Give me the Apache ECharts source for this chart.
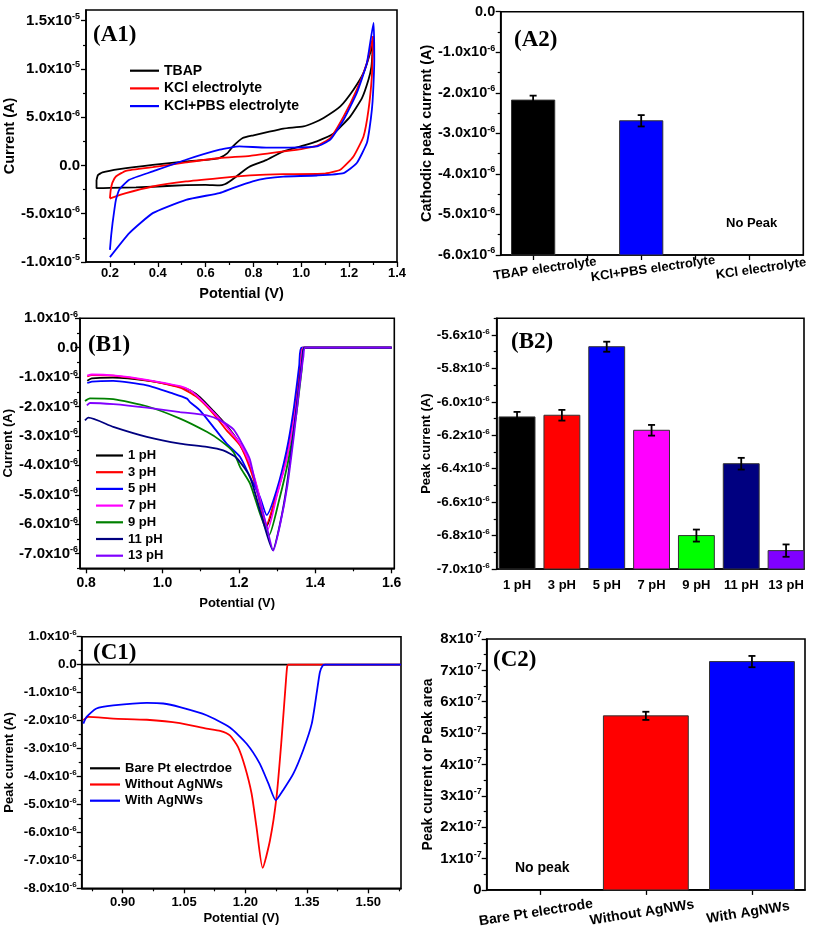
<!DOCTYPE html>
<html><head><meta charset="utf-8">
<script src="https://cdn.jsdelivr.net/npm/echarts@6.0.0/dist/echarts.min.js"></script>
<style>html,body{margin:0;padding:0;background:#fff}#c{width:813px;height:929px}</style>
</head><body><div id="c"></div>
<script>
// ================= DATA (currents in units of 1e-6 A unless noted) =================
// (A1) cyclic voltammograms: [potential V, current uA]
const a1Names = ['TBAP', 'KCl electrolyte', 'KCl+PBS electrolyte'];
const a1Colors = ['#000000', '#ff0000', '#0000ff'];
const a1TBAP = [[0.144,-1.5],[0.15,-1.0],[0.169,-0.72],[0.239,-0.38],[0.379,0.07],[0.518,0.42],[0.62,0.62],[0.658,0.78],[0.69,1.25],[0.714,1.97],[0.755,2.84],[0.80,3.12],[0.853,3.42],[0.925,3.82],[1.009,4.05],[1.05,4.4],[1.093,4.92],[1.163,6.12],[1.218,7.85],[1.26,9.58],[1.288,11.66],[1.30,13.0],[1.297,11.5],[1.293,10.2],[1.281,8.89],[1.254,6.99],[1.205,5.08],[1.135,3.3],[1.065,2.5],[1.0,2.0],[0.925,1.45],[0.853,0.55],[0.786,-0.1],[0.755,-0.62],[0.72,-1.3],[0.70,-1.66],[0.68,-1.95],[0.658,-2.07],[0.6,-2.02],[0.518,-2.03],[0.4,-2.18],[0.309,-2.28],[0.2,-2.33],[0.144,-2.35],[0.144,-1.5]];
const a1KCl = [[0.2,-3.4],[0.203,-2.6],[0.21,-1.8],[0.225,-1.14],[0.267,-0.55],[0.379,-0.17],[0.518,0.31],[0.659,0.77],[0.786,1.0],[0.925,1.45],[1.0,1.7],[1.065,2.04],[1.121,2.84],[1.177,5.08],[1.232,7.85],[1.274,10.6],[1.30,13.4],[1.298,11.5],[1.295,9.23],[1.281,5.78],[1.26,3.0],[1.218,0.93],[1.163,-0.45],[1.093,-0.86],[0.925,-0.9],[0.853,-0.95],[0.786,-1.02],[0.658,-1.31],[0.518,-1.66],[0.379,-2.18],[0.267,-2.86],[0.204,-3.38],[0.2,-3.45]];
const a1PBS = [[0.2,-8.75],[0.205,-7.3],[0.211,-5.98],[0.225,-3.56],[0.239,-2.52],[0.281,-1.48],[0.379,-0.62],[0.518,0.59],[0.659,1.63],[0.741,1.97],[0.853,1.85],[0.925,1.85],[1.065,1.97],[1.121,2.67],[1.177,4.74],[1.232,7.51],[1.274,10.6],[1.302,14.77],[1.305,10.96],[1.30,7.5],[1.295,5.78],[1.285,3.8],[1.274,2.32],[1.232,0.25],[1.177,-0.79],[1.065,-1.04],[0.925,-1.15],[0.853,-1.35],[0.797,-1.66],[0.714,-2.35],[0.658,-2.86],[0.518,-3.56],[0.379,-4.94],[0.281,-7.01],[0.2,-9.5]];
const a1XTicks = [0.2,0.4,0.6,0.8,1.0,1.2,1.4];
const a1XMinor = [0.3,0.5,0.7,0.9,1.1,1.3];
const a1YTicks = [-10,-5,0,5,10,15];
const a1YMinor = [-7.5,-2.5,2.5,7.5,12.5];

// (A2) cathodic peak current, uA
const a2Categories = ['TBAP electrolyte', 'KCl+PBS electrolyte', 'KCl electrolyte'];
const a2Values = [-2.18, -2.69, null];
const a2Errors = [0.11, 0.14, null];
const a2Colors = ['#000000', '#0000ff', '#ff0000'];
const a2XTicks = [1, 1.5, 2, 2.5, 3];
const a2XLabels = [1, 2, 3];
const a2YTicks = [-6,-5,-4,-3,-2,-1,0];
const a2YMinor = [-5.5,-4.5,-3.5,-2.5,-1.5,-0.5];

// (B1) current vs potential at different pH
const b1Names = ['1 pH','3 pH','5 pH','7 pH','9 pH','11 pH','13 pH'];
const b1Colors = ['#000000','#ff0000','#0000ff','#ff00ff','#008000','#000080','#8000ff'];
const b1pH1 = [[0.803,-1.12],[0.815,-1.04],[0.87,-1.02],[0.96,-1.12],[1.046,-1.33],[1.072,-1.45],[1.098,-1.68],[1.133,-2.15],[1.168,-2.65],[1.203,-3.28],[1.229,-4.0],[1.25,-4.9],[1.262,-5.6],[1.272,-6.09],[1.30,-4.95],[1.325,-3.7],[1.345,-2.3],[1.36,-0.8],[1.368,0],[1.6,0]];
const b1pH3 = [[0.803,-0.98],[0.815,-0.93],[0.871,-0.95],[0.959,-1.11],[1.046,-1.36],[1.09,-1.68],[1.133,-2.24],[1.168,-2.81],[1.203,-3.32],[1.229,-4.1],[1.25,-5.0],[1.262,-5.7],[1.27,-6.08],[1.30,-4.9],[1.325,-3.6],[1.345,-2.2],[1.36,-0.7],[1.367,0],[1.6,0]];
const b1pH5 = [[0.803,-1.2],[0.815,-1.15],[0.871,-1.13],[0.959,-1.28],[1.028,-1.56],[1.064,-1.73],[1.072,-1.85],[1.098,-2.13],[1.133,-2.69],[1.168,-3.26],[1.203,-3.71],[1.229,-4.39],[1.255,-5.07],[1.273,-5.69],[1.299,-4.84],[1.325,-3.49],[1.343,-2.13],[1.358,-0.6],[1.364,0],[1.6,0]];
const b1pH7 = [[0.803,-0.95],[0.815,-0.91],[0.871,-0.94],[0.959,-1.09],[1.046,-1.31],[1.072,-1.45],[1.098,-1.73],[1.133,-2.19],[1.168,-2.69],[1.203,-3.26],[1.229,-3.94],[1.25,-4.85],[1.265,-5.7],[1.276,-6.17],[1.30,-5.0],[1.325,-3.8],[1.345,-2.4],[1.362,-0.8],[1.369,0],[1.6,0]];
const b1pH9 = [[0.797,-1.81],[0.81,-1.72],[0.871,-1.75],[0.959,-1.99],[1.046,-2.41],[1.116,-2.86],[1.151,-3.15],[1.186,-3.55],[1.203,-4.05],[1.229,-4.61],[1.255,-5.63],[1.279,-6.37],[1.305,-5.2],[1.33,-3.8],[1.35,-2.3],[1.365,-0.7],[1.371,0],[1.6,0]];
const b1pH11 = [[0.797,-2.47],[0.806,-2.38],[0.871,-2.69],[0.959,-3.03],[1.046,-3.26],[1.116,-3.37],[1.159,-3.49],[1.194,-3.75],[1.229,-4.39],[1.26,-5.75],[1.289,-6.88],[1.308,-5.97],[1.325,-4.73],[1.343,-2.92],[1.356,-1.45],[1.367,-0.3],[1.372,0],[1.6,0]];
const b1pH13 = [[0.802,-1.96],[0.81,-1.88],[0.871,-1.92],[0.959,-2.04],[1.046,-2.19],[1.116,-2.30],[1.151,-2.47],[1.186,-2.78],[1.212,-3.35],[1.229,-3.8],[1.247,-4.84],[1.273,-6.09],[1.290,-6.90],[1.309,-5.95],[1.327,-4.7],[1.345,-2.9],[1.358,-1.4],[1.369,-0.3],[1.374,0],[1.6,0]];
const b1XTicks = [0.8,1.0,1.2,1.4,1.6];
const b1XMinor = [0.9,1.1,1.3,1.5];
const b1YTicks = [-7,-6,-5,-4,-3,-2,-1,0,1];
const b1YMinor = [-7.5,-6.5,-5.5,-4.5,-3.5,-2.5,-1.5,-0.5,0.5];

// (B2) peak current vs pH, uA
const b2Categories = ['1 pH','3 pH','5 pH','7 pH','9 pH','11 pH','13 pH'];
const b2Values = [-6.09,-6.08,-5.67,-6.17,-6.80,-6.37,-6.89];
const b2Errors = [0.03,0.032,0.03,0.032,0.036,0.035,0.037];
const b2Colors = ['#000000','#ff0000','#0000ff','#ff00ff','#00ff00','#000080','#8000ff'];
const b2XLabels = [1,2,3,4,5,6,7];
const b2YTicks = [-7.0,-6.8,-6.6,-6.4,-6.2,-6.0,-5.8,-5.6];
const b2YMinor = [-6.9,-6.7,-6.5,-6.3,-6.1,-5.9,-5.7,-5.5];

// (C1) electrodes
const c1Names = ['Bare Pt electrdoe', 'Without AgNWs', 'With AgNWs'];
const c1Colors = ['#000000', '#ff0000', '#0000ff'];
const c1Bare = [[0.80,0],[1.58,0]];
const c1Without = [[0.804,-1.99],[0.816,-1.87],[0.877,-1.93],[0.959,-1.97],[1.04,-2.09],[1.105,-2.29],[1.138,-2.37],[1.162,-2.53],[1.182,-2.95],[1.199,-3.66],[1.215,-4.61],[1.227,-5.81],[1.242,-7.27],[1.26,-6.28],[1.276,-4.73],[1.288,-2.71],[1.299,-0.56],[1.302,-0.06],[1.305,0],[1.58,0]];
const c1With = [[0.804,-2.11],[0.812,-1.87],[0.836,-1.57],[0.877,-1.46],[0.959,-1.37],[0.999,-1.39],[1.04,-1.52],[1.105,-1.81],[1.162,-2.25],[1.203,-2.83],[1.235,-3.54],[1.256,-4.25],[1.274,-4.85],[1.292,-4.49],[1.317,-3.9],[1.341,-3.06],[1.362,-2.11],[1.375,-0.92],[1.382,-0.26],[1.389,-0.03],[1.395,0],[1.58,0]];
const c1XTicks = [0.90,1.05,1.20,1.35,1.50];
const c1XMinor = [0.825,0.975,1.125,1.275,1.425,1.575];
const c1YTicks = [-8,-7,-6,-5,-4,-3,-2,-1,0,1];
const c1YMinor = [-7.5,-6.5,-5.5,-4.5,-3.5,-2.5,-1.5,-0.5,0.5];

// (C2) peak current or peak area, units of 1e-7
const c2Categories = ['Bare Pt electrode', 'Without AgNWs', 'With AgNWs'];
const c2Values = [null, 5.55, 7.28];
const c2Errors = [null, 0.13, 0.18];
const c2Colors = ['#000000', '#ff0000', '#0000ff'];
const c2XTicks = [1,2,3];
const c2YTicks = [0,1,2,3,4,5,6,7,8];
const c2YMinor = [0.5,1.5,2.5,3.5,4.5,5.5,6.5,7.5];

// ================= BUILD =================
const FONT = 'Liberation Sans';
const grids = [], xAxes = [], yAxes = [], series = [], legends = [], graphics = [];
// overlay axes carry only the short (minor) ticks; they are offset so that their range never
// contains zero and they stay pinned to the grid edge.
const OVERLAY_SHIFT = 1000;

function sci(unitExp, dec, zeroTxt) {
  return function (v) {
    if (Math.abs(v) < 1e-9) return zeroTxt;
    let m = v, e = unitExp;
    while (Math.abs(m) >= 10 - 1e-9) { m /= 10; e++; }
    while (Math.abs(m) < 1 - 1e-9) { m *= 10; e--; }
    return m.toFixed(dec) + 'x10{s|' + e + '}';
  };
}
function axisCfg(g, o, isX) {
  const fs = o.fs || 13;
  return {
    type: 'value', gridIndex: g, min: o.min, max: o.max, position: isX ? 'bottom' : 'left',
    axisLine: { show: true, onZero: false, lineStyle: { color: '#000', width: 1.6 } },
    axisTick: { show: !!o.ticks, customValues: o.ticks, length: 5, lineStyle: { color: '#000', width: 1.3 } },
    axisLabel: {
      show: !!o.labels, customValues: o.labels, formatter: o.fmt, margin: o.margin,
      rotate: o.rotate || 0, align: o.align, verticalAlign: o.valign, padding: o.padding,
      color: '#000', fontFamily: FONT, fontWeight: 'bold', fontSize: fs,
      rich: { s: { fontSize: Math.round(fs * 0.62), fontFamily: FONT, fontWeight: 'bold', color: '#000', padding: [0, 0, Math.round(fs * 0.55), 0] } }
    },
    splitLine: { show: false },
    name: o.name, nameLocation: 'middle', nameGap: o.nameGap,
    nameTextStyle: { color: '#000', fontFamily: FONT, fontWeight: 'bold', fontSize: o.nfs || 14 }
  };
}
function minorCfg(g, o, isX) {
  const S = OVERLAY_SHIFT;
  return {
    type: 'value', gridIndex: g, min: o.min + S, max: o.max + S, position: isX ? 'bottom' : 'left',
    axisLine: { show: false, onZero: false },
    axisTick: { show: !!o.minor, customValues: (o.minor || []).map(v => v + S), length: 3, lineStyle: { color: '#000', width: 1.2 } },
    axisLabel: { show: false }, splitLine: { show: false }
  };
}
function panel(rect, xo, yo) {
  const g = grids.length;
  grids.push(Object.assign({ show: true, borderColor: '#000', borderWidth: 1.6, backgroundColor: 'transparent' }, rect));
  grids.push(Object.assign({ show: false }, rect));
  const xi = xAxes.length; xAxes.push(axisCfg(g, xo, true)); xAxes.push(minorCfg(g + 1, xo, true));
  const yi = yAxes.length; yAxes.push(axisCfg(g, yo, false)); yAxes.push(minorCfg(g + 1, yo, false));
  return { xi, yi };
}
function addLine(p, name, pts, color, smooth) {
  series.push({
    type: 'line', name, xAxisIndex: p.xi, yAxisIndex: p.yi, data: pts,
    showSymbol: false, symbol: 'none', smooth: smooth, clip: true,
    lineStyle: { color, width: 1.8 }, itemStyle: { color }, z: 3
  });
}
function addBars(p, vals, errs, colors, width, base) {
  const data = [], edata = [];
  vals.forEach((v, i) => { if (v != null) { data.push([i + 1, v, i]); edata.push([i + 1, v, errs[i]]); } });
  series.push({
    type: 'custom', xAxisIndex: p.xi, yAxisIndex: p.yi, data, encode: { x: 0, y: 1 }, z: 2,
    renderItem: (params, api) => {
      const x = api.value(0), v = api.value(1), ci = api.value(2);
      const p0 = api.coord([x - width / 2, base]);
      const p1 = api.coord([x + width / 2, v]);
      return { type: 'rect', shape: { x: p0[0], y: p1[1], width: p1[0] - p0[0], height: p0[1] - p1[1] },
        style: { fill: colors[ci], stroke: '#333', lineWidth: 1 } };
    }
  });
  series.push({
    type: 'custom', xAxisIndex: p.xi, yAxisIndex: p.yi, data: edata, encode: { x: 0, y: 1 }, z: 4,
    renderItem: (params, api) => {
      const x = api.value(0), v = api.value(1), e = api.value(2);
      const pt = api.coord([x, v + e]), pb = api.coord([x, v - e]);
      const c = 3.5, st = { stroke: '#000', lineWidth: 1.8 };
      return { type: 'group', children: [
        { type: 'line', shape: { x1: pt[0], y1: pt[1], x2: pb[0], y2: pb[1] }, style: st },
        { type: 'line', shape: { x1: pt[0] - c, y1: pt[1], x2: pt[0] + c, y2: pt[1] }, style: st },
        { type: 'line', shape: { x1: pb[0] - c, y1: pb[1], x2: pb[0] + c, y2: pb[1] }, style: st }
      ] };
    }
  });
}
function addLegend(names, left, top, iw, gap, fs) {
  legends.push({ data: names, orient: 'vertical', left, top, padding: 0, itemWidth: iw, itemHeight: 2.2, itemGap: gap,
    icon: 'rect', selectedMode: false, textStyle: { fontFamily: FONT, fontWeight: 'bold', fontSize: fs, color: '#000' } });
}
function addText(text, left, top, font) {
  graphics.push({ type: 'text', left, top, z: 10, style: { text, font, fill: '#000' } });
}
const toCat = cats => v => cats[Math.round(v) - 1];
const fix = d => v => v.toFixed(d);
const SERIF = 'bold 23px "Liberation Serif"';

// (A1)
const pA1 = panel({ left: 86, top: 10, width: 311, height: 252 },
  { min: 0.1, max: 1.4, ticks: a1XTicks, minor: a1XMinor, labels: a1XTicks, fmt: fix(1), margin: 5, fs: 13, name: 'Potential (V)', nameGap: 24.5, nfs: 14.5 },
  { min: -10, max: 16.1, ticks: a1YTicks, minor: a1YMinor, labels: a1YTicks, fmt: sci(-6, 1, '0.0'), margin: 6, fs: 15, name: 'Current (A)', nameGap: 65.5, nfs: 14.5 });
[a1TBAP, a1KCl, a1PBS].forEach((d, i) => addLine(pA1, a1Names[i], d, a1Colors[i], 0.15));
addLegend(a1Names, 130, 63.7, 29, 3.7, 14);
addText('(A1)', 93, 24, SERIF);

// (A2)
const pA2 = panel({ left: 500.7, top: 11.7, width: 302.6, height: 243.3 },
  { min: 0.7, max: 3.5, ticks: a2XTicks, labels: a2XLabels, fmt: toCat(a2Categories), rotate: 8, align: 'center', valign: 'top', margin: 9, padding: [0, 0, 0, 22], fs: 13 },
  { min: -6, max: 0, ticks: a2YTicks, minor: a2YMinor, labels: a2YTicks, fmt: sci(-6, 1, '0.0'), margin: 5.5, fs: 14.5, name: 'Cathodic peak current (A)', nameGap: 66.5, nfs: 14.5 });
addBars(pA2, a2Values, a2Errors, a2Colors, 0.4, -6);
addText('(A2)', 514, 29, SERIF);
addText('No Peak', 726, 217, 'bold 13px "Liberation Sans"');

// (B1)
const pB1 = panel({ left: 80, top: 318.3, width: 314.3, height: 250 },
  { min: 0.784, max: 1.607, ticks: b1XTicks, minor: b1XMinor, labels: b1XTicks, fmt: fix(1), margin: 7.5, fs: 14, name: 'Potential (V)', nameGap: 29, nfs: 13 },
  { min: -7.5, max: 1, ticks: b1YTicks, minor: b1YMinor, labels: b1YTicks, fmt: sci(-6, 1, '0.0'), margin: 2, fs: 15, name: 'Current (A)', nameGap: 59.5, nfs: 13 });
[b1pH1, b1pH3, b1pH5, b1pH7, b1pH9, b1pH11, b1pH13].forEach((d, i) => addLine(pB1, b1Names[i], d, b1Colors[i], 0.2));
addLegend(b1Names, 96, 449, 27, 3.7, 13);
addText('(B1)', 88, 334, SERIF);

// (B2)
const pB2 = panel({ left: 496.7, top: 318.3, width: 307.3, height: 250.7 },
  { min: 0.546, max: 7.4, labels: b2XLabels, fmt: toCat(b2Categories), margin: 9.5, fs: 13 },
  { min: -7, max: -5.5, ticks: b2YTicks, minor: b2YMinor, labels: b2YTicks, fmt: sci(-6, 1, '0.0'), margin: 7, fs: 13.5, name: 'Peak current (A)', nameGap: 61, nfs: 13 });
addBars(pB2, b2Values, b2Errors, b2Colors, 0.8, -7);
addText('(B2)', 511, 331, SERIF);

// (C1)
const pC1 = panel({ left: 81.7, top: 636.7, width: 319.3, height: 251.6 },
  { min: 0.8, max: 1.58, ticks: c1XTicks, minor: c1XMinor, labels: c1XTicks, fmt: fix(2), margin: 8, fs: 13, name: 'Potential (V)', nameGap: 24, nfs: 13 },
  { min: -8, max: 1, ticks: c1YTicks, minor: c1YMinor, labels: c1YTicks, fmt: sci(-6, 1, '0.0'), margin: 5, fs: 13.5, name: 'Peak current (A)', nameGap: 66, nfs: 13 });
[c1Bare, c1Without, c1With].forEach((d, i) => addLine(pC1, c1Names[i], d, c1Colors[i], 0.2));
addLegend(c1Names, 90, 761.8, 30, 3.2, 13);
addText('(C1)', 93, 642, SERIF);

// (C2)
const pC2 = panel({ left: 486.7, top: 639, width: 318.3, height: 251 },
  { min: 0.5, max: 3.5, ticks: c2XTicks, labels: c2XTicks, fmt: toCat(c2Categories), rotate: 9, align: 'center', valign: 'top', margin: 15, padding: [0, 10, 0, 0], fs: 14 },
  { min: 0, max: 8, ticks: c2YTicks, minor: c2YMinor, labels: c2YTicks, fmt: sci(-7, 0, '0'), margin: 5, fs: 15, name: 'Peak current or Peak area', nameGap: 51.7, nfs: 14 });
addBars(pC2, c2Values, c2Errors, c2Colors, 0.8, 0);
addText('(C2)', 493, 649, SERIF);
addText('No peak', 515, 861, 'bold 14px "Liberation Sans"');

const chart = echarts.init(document.getElementById('c'), null, { renderer: 'canvas', width: 813, height: 929 });
chart.setOption({
  backgroundColor: '#ffffff',
  animation: false,
  textStyle: { fontFamily: FONT },
  grid: grids, xAxis: xAxes, yAxis: yAxes, series, legend: legends, graphic: graphics
});
</script>
</body></html>
